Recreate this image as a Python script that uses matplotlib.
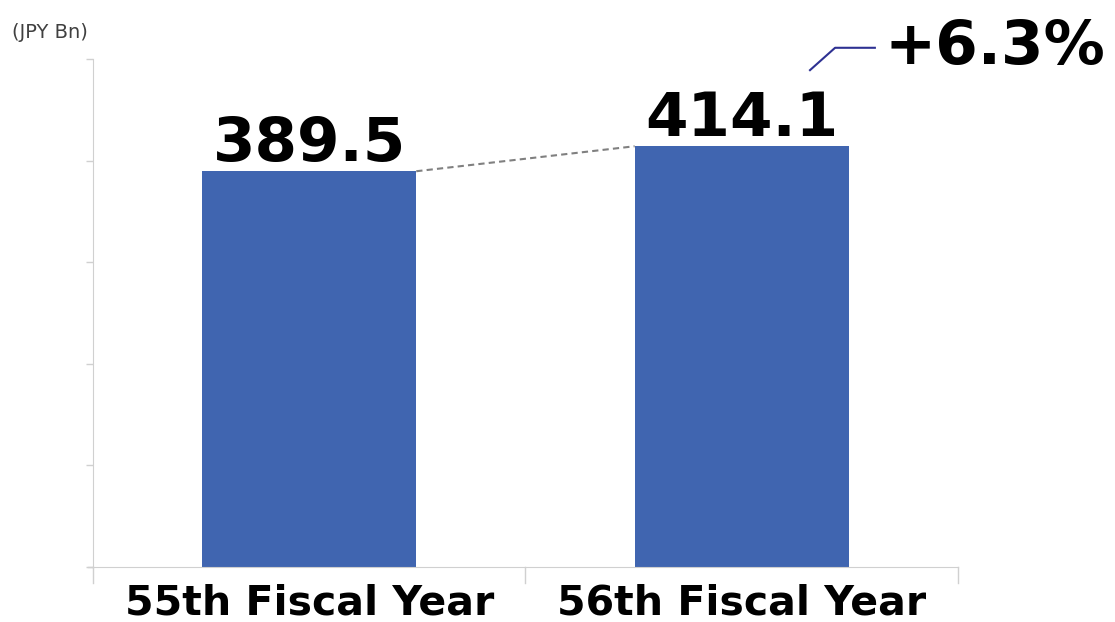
import matplotlib
matplotlib.use('Agg')
import matplotlib.pyplot as plt

categories = ['55th Fiscal Year', '56th Fiscal Year']
values = [389.5, 414.1]
value_labels = ['389.5', '414.1']
growth_label = '+6.3%'
unit_label = '(JPY Bn)'
y_ticks = [0, 100, 200, 300, 400, 500]

BAR_COLOR = '#4065b0'
AXIS_COLOR = '#d0d0d0'

fig = plt.figure(figsize=(11.15, 6.22), dpi=100)
ax = fig.add_axes([0.0834, 0.0884, 0.7757, 0.8168])

x = list(range(len(categories)))
width = 0.495
bars = ax.bar(x, values, width=width, color=BAR_COLOR, zorder=2)

ax.set_xlim(-0.5, len(categories) - 0.5)
ax.set_ylim(y_ticks[0], y_ticks[-1])
ax.set_yticks(y_ticks)
ax.set_yticklabels([])
ax.tick_params(axis='y', direction='out', length=5, color=AXIS_COLOR, width=1)
ax.set_xticks([])

for side in ['top', 'right']:
    ax.spines[side].set_visible(False)
ax.spines['left'].set_color(AXIS_COLOR)
ax.spines['bottom'].set_color(AXIS_COLOR)

# category separators below the baseline
for xs in [-0.5, 0.5, 1.5]:
    ax.plot([xs, xs], [0, -16], color=AXIS_COLOR, lw=1, clip_on=False)
ax.plot([-0.512, -0.5], [0, 0], color=AXIS_COLOR, lw=1, clip_on=False)

# category labels
for xi, name in zip(x, categories):
    ax.text(xi, -47, name, ha='center', va='baseline', fontsize=29.5,
            fontweight='bold', clip_on=False)

# value labels
for xi, v, lab in zip(x, values, value_labels):
    ax.text(xi, v + 10, lab, ha='center', va='baseline', fontsize=44,
            fontweight='bold')

# dashed connector between bar tops
ax.plot([x[0] + width / 2, x[1] - width / 2], [values[0], values[1]],
        color='#808080', lw=1.5, ls=(0, (3, 2)), zorder=3)

# growth callout
ax.plot([1.158, 1.216, 1.308], [489, 511, 511], color='#2e3192', lw=1.5,
        clip_on=False)
ax.text(1.33, 495, growth_label, ha='left', va='baseline', fontsize=44,
        fontweight='bold', clip_on=False)

fig.text(0.011, 0.948, unit_label, ha='left', va='center', fontsize=14,
         color='#404040')

fig.savefig('out.png', dpi=100)
